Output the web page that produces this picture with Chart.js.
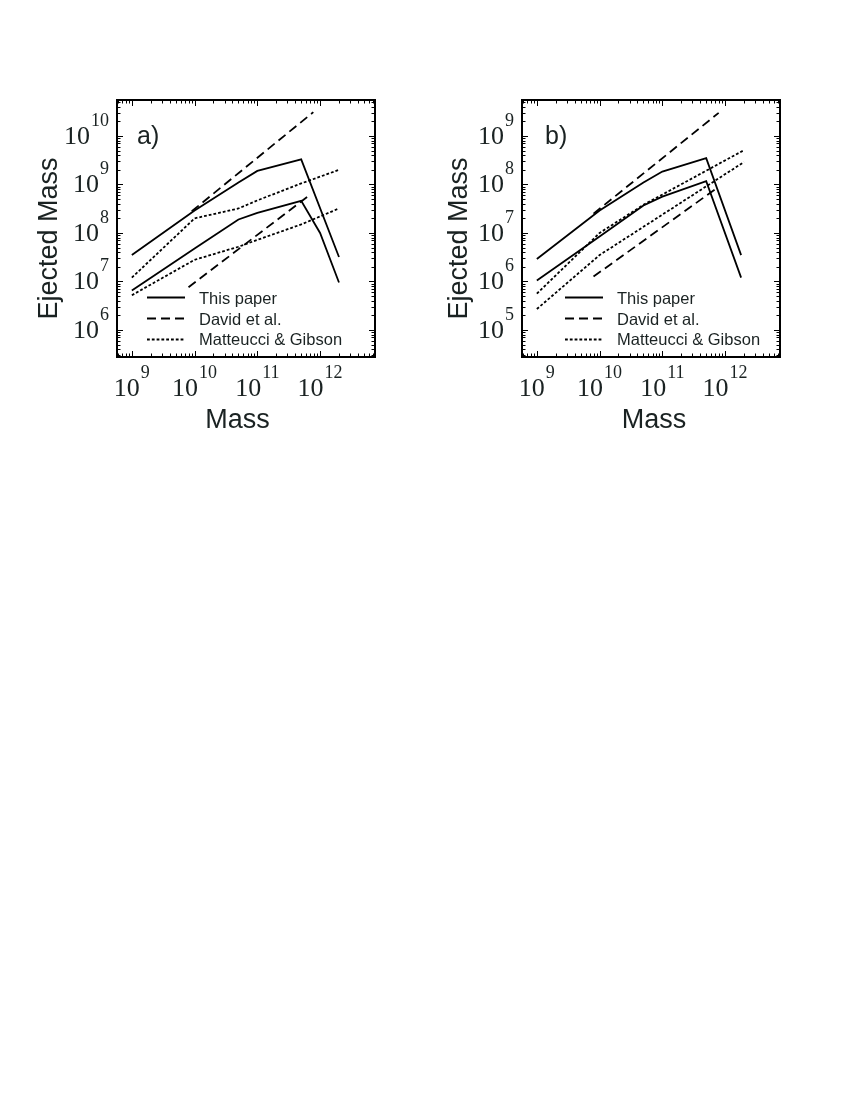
<!DOCTYPE html>
<html>
<head>
<meta charset="utf-8">
<script src="https://cdn.jsdelivr.net/npm/chart.js@4.4.0/dist/chart.umd.min.js"></script>
<style>
  html, body { margin: 0; padding: 0; background: #fff; width: 850px; height: 1100px; overflow: hidden; }
  canvas { position: absolute; top: 80px; }
  #chartA { left: 0; }
  #chartB { left: 425px; }
</style>
</head>
<body>
<canvas id="chartA" width="425" height="370"></canvas>
<canvas id="chartB" width="425" height="370"></canvas>
<script>
// ---- data ----
// x: halo mass, y: ejected mass
const massA      = [1e9, 1e10, 5e10, 1e11, 5e11, 2e12];
const thisHiA    = [3.5e7, 2.9e8, 1.1e9, 1.9e9, 3.3e9, 3.2e7];
const massLoA    = [1e9, 1e10, 5e10, 1e11, 5e11, 1e12, 2e12];
const thisLoA    = [6.5e6, 4.8e7, 1.9e8, 2.6e8, 4.6e8, 1.0e8, 9.5e6];
const mgHiA      = [1.2e7, 2.0e8, 3.2e8, 4.7e8, 1.05e9, 2.0e9];
const mgLoA      = [5.2e6, 2.8e7, 5.2e7, 7.2e7, 1.5e8, 3.2e8];
const davidHiMassA = [9e9, 7.8e11];
const davidHiA     = [2.8e8, 3.1e10];
const davidLoMassA = [8e9, 6.3e11];
const davidLoA     = [7.6e6, 5.6e8];

const massB      = [1e9, 1e10, 5e10, 1e11, 5e11, 1.8e12];
const thisHiB    = [2.9e6, 2.9e7, 1.1e8, 1.85e8, 3.5e8, 3.5e6];
const thisLoB    = [1.05e6, 8.5e6, 3.7e7, 5.6e7, 1.17e8, 1.2e6];
const mgHiMassB  = [1e9, 1e10, 5e10, 2e12];
const mgHiB      = [5.6e5, 1.0e7, 3.8e7, 5.1e8];
const mgLoMassB  = [1e9, 1e10, 2e12];
const mgLoB      = [2.7e5, 3.5e6, 2.9e8];
const davidHiMassB = [8e9, 7.9e11];
const davidHiB     = [2.5e7, 3.0e9];
const davidLoMassB = [8e9, 6.8e11];
const davidLoB     = [1.26e6, 7.8e7];

const legendLabels = ['This paper', 'David et al.', 'Matteucci & Gibson'];

// axis ranges
const xMin = 5.8e8, xMax = 7.5e12;
const yMinA = 2.77e5, yMaxA = 5.52e10;
const yMinB = 2.77e4, yMaxB = 5.52e9;

const SOLID = [], DASHED = [9, 5], DOTTED = [2.8, 2];
const legendDash = [SOLID, DASHED, DOTTED];
const textColor = '#1a2222';
const LINE_W = 1.8;

function pts(xs, ys) { return xs.map((v, i) => ({ x: v, y: ys[i] })); }
function ds(xs, ys, dash) {
  return { data: pts(xs, ys), borderColor: '#000', borderWidth: LINE_W, borderDash: dash,
           pointRadius: 0, tension: 0, fill: false };
}

function logTicks(min, max) {
  const out = [];
  for (let e = Math.floor(Math.log10(min)); e <= Math.ceil(Math.log10(max)); e++) {
    for (let m = 1; m <= 9; m++) {
      const v = m * Math.pow(10, e);
      if (v >= min && v <= max) out.push({ v, e, major: m === 1 });
    }
  }
  return out;
}

// frame, inward ticks on all sides, power-of-ten labels, titles and legend
const panelDecor = {
  id: 'panelDecor',
  afterDraw(chart, args, o) {
    const { ctx, chartArea: a, scales: { x, y } } = chart;
    ctx.save();

    ctx.strokeStyle = '#000';
    ctx.lineWidth = 1;
    ctx.beginPath();
    logTicks(x.min, x.max).forEach(t => {
      const px = Math.round(x.getPixelForValue(t.v)) + 0.5;
      const len = t.major ? 6 : 3.5;
      ctx.moveTo(px, a.bottom); ctx.lineTo(px, a.bottom - len);
      ctx.moveTo(px, a.top); ctx.lineTo(px, a.top + len);
    });
    logTicks(y.min, y.max).forEach(t => {
      const py = Math.round(y.getPixelForValue(t.v)) + 0.5;
      const len = t.major ? 6 : 3.5;
      ctx.moveTo(a.left, py); ctx.lineTo(a.left + len, py);
      ctx.moveTo(a.right, py); ctx.lineTo(a.right - len, py);
    });
    ctx.stroke();

    ctx.lineWidth = 2;
    ctx.strokeRect(a.left, a.top, a.right - a.left, a.bottom - a.top);

    // tick labels 10^n
    const baseFont = '26px "Liberation Serif"', expFont = '18px "Liberation Serif"';
    ctx.fillStyle = textColor;
    ctx.textBaseline = 'alphabetic';
    ctx.textAlign = 'left';
    logTicks(x.min, x.max).filter(t => t.major).forEach(t => {
      const px = x.getPixelForValue(t.v);
      ctx.font = baseFont; const wb = ctx.measureText('10').width;
      ctx.font = expFont;  const we = ctx.measureText(String(t.e)).width;
      const x0 = px - (wb + 1 + we) / 2;
      ctx.font = baseFont; ctx.fillText('10', x0, a.bottom + 39);
      ctx.font = expFont;  ctx.fillText(String(t.e), x0 + wb + 1, a.bottom + 21);
    });
    logTicks(y.min, y.max).filter(t => t.major).forEach(t => {
      const py = y.getPixelForValue(t.v);
      ctx.font = baseFont; const wb = ctx.measureText('10').width;
      ctx.font = expFont;  const we = ctx.measureText(String(t.e)).width;
      const right = a.left - 8;
      ctx.font = expFont;  ctx.fillText(String(t.e), right - we, py - 10);
      ctx.font = baseFont; ctx.fillText('10', right - we - 1 - wb, py + 8);
    });

    // axis titles
    ctx.font = '27px "Liberation Sans"';
    ctx.textAlign = 'center';
    ctx.fillText('Mass', a.left + o.xTitleDx, a.bottom + 71);
    ctx.save();
    ctx.translate(a.left - o.yTitleGap, a.top + 138.5);
    ctx.rotate(-Math.PI / 2);
    ctx.fillText('Ejected Mass', 0, 0);
    ctx.restore();

    // panel tag
    ctx.textAlign = 'left';
    ctx.font = '25px "Liberation Sans"';
    ctx.fillText(o.tag, a.left + o.tagDx, a.top + 44);

    // legend
    ctx.font = '16.5px "Liberation Sans"';
    legendLabels.forEach((lab, i) => {
      const base = a.top + [204, 224.5, 245][i];
      const ly = Math.round(a.top + [197, 218, 239][i]) + 0.5;
      ctx.strokeStyle = '#000';
      ctx.lineWidth = LINE_W;
      ctx.setLineDash(legendDash[i]);
      ctx.beginPath();
      ctx.moveTo(a.left + o.legDx, ly);
      ctx.lineTo(a.left + o.legDx + 38, ly);
      ctx.stroke();
      ctx.setLineDash([]);
      ctx.fillStyle = textColor;
      ctx.fillText(lab, a.left + o.legDx + 52, base);
    });

    ctx.restore();
  }
};

function makeChart(id, datasets, yMin, yMax, padding, decor) {
  return new Chart(document.getElementById(id), {
    type: 'line',
    data: { datasets },
    options: {
      responsive: false,
      animation: false,
      devicePixelRatio: 1,
      layout: { padding },
      plugins: { legend: { display: false }, tooltip: { enabled: false }, panelDecor: decor },
      scales: {
        x: { type: 'logarithmic', min: xMin, max: xMax, display: false, bounds: 'data' },
        y: { type: 'logarithmic', min: yMin, max: yMax, display: false, bounds: 'data' }
      }
    },
    plugins: [panelDecor]
  });
}

makeChart('chartA', [
  ds(massA, thisHiA, SOLID),
  ds(massLoA, thisLoA, SOLID),
  ds(davidHiMassA, davidHiA, DASHED),
  ds(davidLoMassA, davidLoA, DASHED),
  ds(massA, mgHiA, DOTTED),
  ds(massA, mgLoA, DOTTED)
], yMinA, yMaxA, { left: 117, top: 20, right: 50, bottom: 93 },
   { tag: 'a)', tagDx: 20, legDx: 30, xTitleDx: 120.5, yTitleGap: 60 });

makeChart('chartB', [
  ds(massB, thisHiB, SOLID),
  ds(massB, thisLoB, SOLID),
  ds(davidHiMassB, davidHiB, DASHED),
  ds(davidLoMassB, davidLoB, DASHED),
  ds(mgHiMassB, mgHiB, DOTTED),
  ds(mgLoMassB, mgLoB, DOTTED)
], yMinB, yMaxB, { left: 97, top: 20, right: 70, bottom: 93 },
   { tag: 'b)', tagDx: 23, legDx: 43, xTitleDx: 132, yTitleGap: 55 });
</script>
</body>
</html>
